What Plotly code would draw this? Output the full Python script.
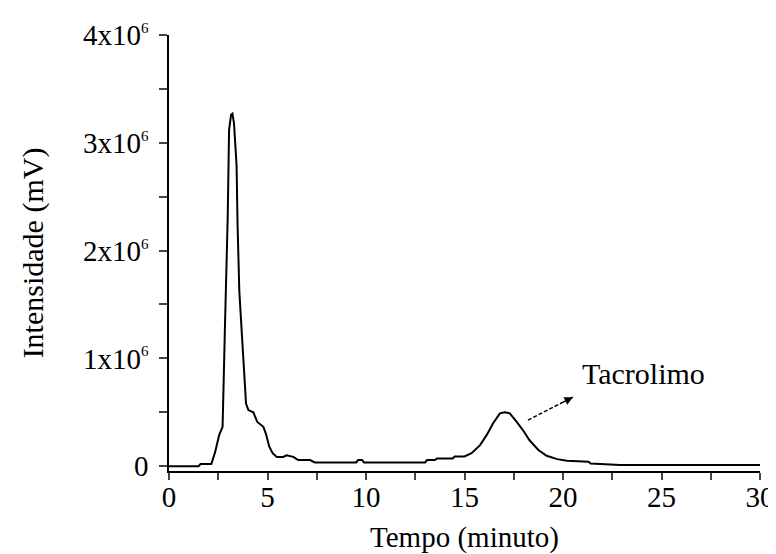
import plotly.graph_objects as go

# Retention time (minutes)
tempo = [0, 1.5, 1.6, 2.15, 2.34, 2.55, 2.72, 2.76, 2.84, 2.98, 3.05, 3.15, 3.22, 3.30,
         3.43, 3.48, 3.57, 3.71, 3.83, 3.91, 4.03, 4.28, 4.48, 4.79, 4.92, 5.09, 5.26,
         5.47, 5.80, 5.97, 6.31, 6.56, 7.16, 7.4, 9.5, 9.6, 9.8, 9.9, 13.0, 13.1, 13.5,
         13.6, 14.4, 14.5, 15.0, 15.36, 15.79, 16.13, 16.46, 16.8, 17.05, 17.3, 17.65,
         17.98, 18.3, 18.75, 19.17, 19.7, 20.2, 21.3, 21.4, 22.9, 30]
# Intensity (x10^6 mV)
intensidade_m = [0.0, 0.0, 0.02, 0.02, 0.13, 0.29, 0.365, 0.61, 1.29, 2.31, 3.12, 3.26, 3.27,
                 3.18, 2.79, 2.24, 1.62, 1.19, 0.80, 0.58, 0.52, 0.50, 0.41, 0.365, 0.30,
                 0.18, 0.12, 0.086, 0.086, 0.10, 0.086, 0.056, 0.056, 0.034, 0.034, 0.056,
                 0.056, 0.034, 0.034, 0.056, 0.056, 0.071, 0.071, 0.09, 0.09, 0.12, 0.195,
                 0.29, 0.40, 0.49, 0.50, 0.49, 0.41, 0.33, 0.24, 0.15, 0.096, 0.065, 0.05,
                 0.04, 0.025, 0.01, 0.01]
intensidade = [v * 1e6 for v in intensidade_m]

x_ticks = [0, 5, 10, 15, 20, 25, 30]
y_tickvals = [0, 1e6, 2e6, 3e6, 4e6]
SUP = "<sup><span style='font-size:15px'>6</span></sup>"
y_ticktext = ["0", "1x10" + SUP, "2x10" + SUP, "3x10" + SUP, "4x10" + SUP]

# annotation: peak label
label_text = "Tacrolimo"
label_x, label_y = 24.1, 0.86e6
arrow_tail = (18.22, 0.427e6)
arrow_head = (20.5, 0.64e6)

FONT = "Liberation Serif, Times New Roman, serif"

fig = go.Figure()
fig.add_trace(go.Scatter(x=tempo, y=intensidade, mode="lines",
                         line=dict(color="black", width=2), showlegend=False))

# dashed arrow shaft
fig.add_shape(type="line", xref="x", yref="y",
              x0=arrow_tail[0], y0=arrow_tail[1], x1=arrow_head[0], y1=arrow_head[1],
              line=dict(color="black", width=1.5, dash="4px,2px"))
# arrow head (short solid piece at the tip)
fig.add_annotation(x=arrow_head[0], y=arrow_head[1],
                   ax=arrow_tail[0] + 0.75 * (arrow_head[0] - arrow_tail[0]),
                   ay=arrow_tail[1] + 0.75 * (arrow_head[1] - arrow_tail[1]),
                   xref="x", yref="y", axref="x", ayref="y", text="",
                   showarrow=True, arrowhead=2, arrowsize=1.2, arrowwidth=1.4,
                   arrowcolor="black")
fig.add_annotation(x=label_x, y=label_y, xref="x", yref="y", text=label_text,
                   showarrow=False, font=dict(family=FONT, size=30, color="black"))

# page body has an 8px default margin, so the figure is sized 8px smaller
fig.update_layout(
    width=768, height=546,
    margin=dict(l=161, r=16, t=27, b=83),
    paper_bgcolor="white", plot_bgcolor="white",
    font=dict(family=FONT, size=29, color="black"),
    xaxis=dict(range=[0, 30], tickvals=x_ticks, ticks="outside", ticklen=7,
               tickwidth=1.5, showline=True, linecolor="black", linewidth=1.5,
               showgrid=False, zeroline=False, mirror=False, automargin=False,
               ticklabelstandoff=-8,
               minor=dict(dtick=2.5, tick0=0, ticks="outside", ticklen=7, tickwidth=1.5),
               title=dict(text="Tempo (minuto)", font=dict(size=29), standoff=18),
               tickfont=dict(size=29)),
    yaxis=dict(range=[-0.045e6, 4.0e6], tickvals=y_tickvals, ticktext=y_ticktext,
               ticks="outside", ticklen=8, tickwidth=1.5, showline=True,
               linecolor="black", linewidth=1.5, showgrid=False, zeroline=False,
               automargin=False, ticklabelstandoff=5,
               minor=dict(dtick=0.5e6, tick0=0, ticks="outside", ticklen=8, tickwidth=1.5),
               title=dict(text="Intensidade (mV)", font=dict(size=30), standoff=30),
               tickfont=dict(size=29)),
)

fig.write_html("out.html")
